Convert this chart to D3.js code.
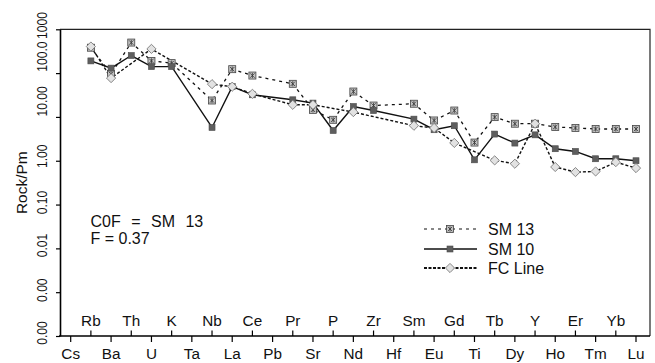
<!DOCTYPE html>
<html>
<head>
<meta charset="utf-8">
<script src="https://cdn.jsdelivr.net/npm/d3@7/dist/d3.min.js"></script>
<style>
  html, body { margin: 0; padding: 0; background: #fff; }
  svg { display: block; }
  text { font-family: "Liberation Sans", Arial, sans-serif; fill: #111; }
</style>
</head>
<body>
<svg id="chart" width="655" height="363"></svg>
<script>
// Primitive-mantle normalised trace elements
const elements = ["Cs","Rb","Ba","Th","U","K","Ta","Nb","La","Ce","Pb","Pr","Sr","P","Nd","Zr","Hf","Sm","Eu","Gd","Ti","Tb","Dy","Y","Ho","Er","Tm","Yb","Lu"];

const sm13 = [null,380,95,498,190,169,null,23.7,123,88,null,57,14.5,8.6,38,18.2,null,20,8.3,14,2.6,9.9,7.0,7.0,5.9,5.6,5.3,5.3,5.3];
const sm10 = [null,190,130,252,141,141,null,5.75,49,32,null,24.6,20.7,4.9,17.3,14.0,null,8.9,5.1,6.3,1.05,4.06,2.53,3.9,1.88,1.63,1.11,1.11,1.0];
const fcLine = [null,404,77,null,357,null,null,56,49,33.7,null,18.9,18.9,null,12.9,null,null,6.3,5.6,2.55,null,1.02,0.855,7.0,0.72,0.55,0.57,0.93,0.68];

const yTickValues = [1e-4,1e-3,1e-2,1e-1,1,10,100,1000];
const yTickLabels = ["0.00","0.00","0.01","0.10","1.00","10.00","100.0","1000"];

const seriesNames = ["SM 13","SM 10","FC Line"];
const noteLines = ["C0F = SM 13","F = 0.37"];

const svg = d3.select("#chart");
const plot = {left: 60, right: 650, top: 29.3, bottom: 336};

const x = d3.scalePoint().domain(elements).range([70.7, 636]);
const y = d3.scaleLog().domain([1e-4, 1000]).range([plot.bottom, plot.top]);

// frame: top and right edges
svg.append("path")
  .attr("d", `M${plot.left},${plot.top}H${plot.right}V${plot.bottom}`)
  .attr("fill", "none").attr("stroke", "#222").attr("stroke-width", 1.2);

// y axis
const yAxis = d3.axisLeft(y).tickValues(yTickValues)
  .tickFormat((d, i) => yTickLabels[i]).tickSize(4).tickSizeOuter(0);
const gy = svg.append("g").attr("transform", `translate(${plot.left},0)`).call(yAxis);
gy.select(".domain").attr("stroke", "#000").attr("stroke-width", 1.6);
gy.selectAll(".tick line").attr("stroke", "#000").attr("stroke-width", 1.2);
// rotated, narrowed tick labels, nudged along the axis
const labelNudge = [-3.5, -2.5, -3.3, -2.5, -5, -16, -17, -4.3];
gy.selectAll(".tick text")
  .attr("x", null).attr("dy", null).attr("y", 0)
  .attr("transform", (d, i) => `translate(-13.5,${labelNudge[i]}) rotate(-90)`)
  .attr("text-anchor", "middle")
  .style("font-size", "15.5px")
  .style("font-family", "'Liberation Sans', Arial, sans-serif")
  .attr("fill", "#111")
  .each(function () {
    const w = this.getComputedTextLength();
    d3.select(this).attr("textLength", w * 0.78).attr("lengthAdjust", "spacingAndGlyphs");
  });

// y title
svg.append("text")
  .attr("transform", `translate(26.5,${(plot.top + plot.bottom) / 2}) rotate(-90)`)
  .attr("text-anchor", "middle").style("font-size", "15.5px")
  .text("Rock/Pm");

// x axis with alternating label rows
const gx = svg.append("g");
gx.append("line")
  .attr("x1", plot.left - 1).attr("x2", plot.right)
  .attr("y1", plot.bottom).attr("y2", plot.bottom)
  .attr("stroke", "#000").attr("stroke-width", 1.6);
const ticks = gx.selectAll("g.xt").data(elements).join("g")
  .attr("class", "xt").attr("transform", d => `translate(${x(d)},${plot.bottom})`);
ticks.append("line")
  .attr("y1", 0).attr("y2", (d, i) => i % 2 === 0 ? 6 : -5.5)
  .attr("stroke", "#000").attr("stroke-width", 1.2);
ticks.append("text")
  .attr("text-anchor", "middle")
  .attr("y", (d, i) => i % 2 === 0 ? 22.5 : -10.5)
  .style("font-size", "15.3px")
  .text(d => d);

// series
const lineGen = d3.line().x(d => x(d.k)).y(d => y(d.v));
function pts(vals) {
  return elements.map((k, i) => ({k, v: vals[i]})).filter(d => d.v != null);
}

const styles = [
  {vals: sm13, dash: "3,4", width: 1.3, marker: "sm13"},
  {vals: sm10, dash: null, width: 1.4, marker: "sm10"},
  {vals: fcLine, dash: "3,2", width: 1.4, marker: "fc"}
];

function drawMarker(g, kind, cx, cy) {
  if (kind === "sm13") {
    g.append("rect").attr("x", cx - 3.5).attr("y", cy - 3.5).attr("width", 7).attr("height", 7)
      .attr("fill", "#c4c4c4").attr("stroke", "#444").attr("stroke-width", 0.8);
    g.append("path")
      .attr("d", `M${cx-2.2},${cy-2.2}L${cx+2.2},${cy+2.2}M${cx+2.2},${cy-2.2}L${cx-2.2},${cy+2.2}M${cx},${cy-2.6}V${cy+2.6}`)
      .attr("stroke", "#333").attr("stroke-width", 0.8);
  } else if (kind === "sm10") {
    g.append("rect").attr("x", cx - 3).attr("y", cy - 3).attr("width", 6).attr("height", 6)
      .attr("fill", "#5e5e5e").attr("stroke", "#4a4a4a").attr("stroke-width", 0.6);
  } else {
    const r = 4.6;
    g.append("path")
      .attr("d", `M${cx},${cy-r}L${cx+r},${cy}L${cx},${cy+r}L${cx-r},${cy}Z`)
      .attr("fill", "#e2e2e2").attr("stroke", "#7a7a7a").attr("stroke-width", 0.9);
  }
}

const gLines = svg.append("g");
const gMarks = svg.append("g");
styles.forEach(s => {
  const data = pts(s.vals);
  gLines.append("path").datum(data)
    .attr("d", lineGen)
    .attr("fill", "none").attr("stroke", "#111")
    .attr("stroke-width", s.width)
    .attr("stroke-dasharray", s.dash);
});
styles.forEach(s => {
  const g = gMarks.append("g");
  pts(s.vals).forEach(d => drawMarker(g, s.marker, x(d.k), y(d.v)));
});

// legend
const legend = svg.append("g");
const legendRows = [229, 249, 268];
const legendLine = [
  {dash: "3,4", width: 1.2},
  {dash: null, width: 1.4},
  {dash: "3,1.5", width: 2}
];
seriesNames.forEach((name, i) => {
  const ly = legendRows[i];
  legend.append("line").attr("x1", 424).attr("x2", 477).attr("y1", ly).attr("y2", ly)
    .attr("stroke", "#111").attr("stroke-width", legendLine[i].width)
    .attr("stroke-dasharray", legendLine[i].dash);
  drawMarker(legend, styles[i].marker, 450, ly);
  legend.append("text").attr("x", 488).attr("y", ly + 5.6)
    .style("font-size", "16px").text(name);
});

// annotation
svg.append("g").selectAll("text").data(noteLines).join("text")
  .attr("x", 90.5).attr("y", (d, i) => 227 + i * 17)
  .style("font-size", "16px")
  .style("word-spacing", (d, i) => i === 0 ? "6px" : null)
  .text(d => d);
</script>
</body>
</html>
